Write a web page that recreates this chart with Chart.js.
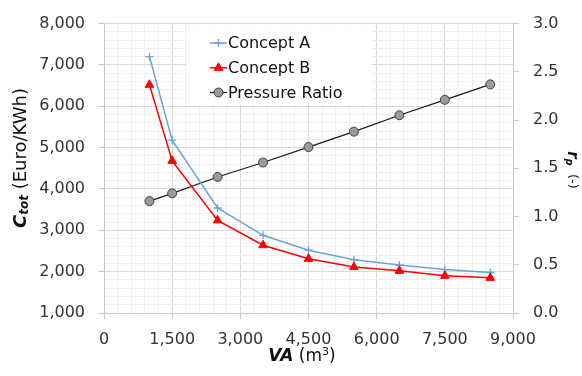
<!DOCTYPE html>
<html>
<head>
<meta charset="utf-8">
<script src="https://cdn.jsdelivr.net/npm/chart.js@4.4.1/dist/chart.umd.min.js"></script>
<style>
  html, body { margin: 0; padding: 0; background: #fff; }
  #wrap { width: 582px; height: 376px; }
</style>
</head>
<body>
<div id="wrap"><canvas id="chart" width="582" height="376"></canvas></div>
<script>
// values
const vaValues = [1000, 1500, 2500, 3500, 4500, 5500, 6500, 7500, 8500];
const conceptA = [7200, 5180, 3540, 2880, 2520, 2290, 2160, 2050, 1980];
const conceptB = [6520, 4680, 3240, 2640, 2310, 2110, 2020, 1900, 1850];
const pressureRatio = [1.16, 1.24, 1.41, 1.56, 1.72, 1.88, 2.05, 2.21, 2.37];

const seriesLabels = ["Concept A", "Concept B", "Pressure Ratio"];

const FONT = "'DejaVu Sans', sans-serif";
const MAJOR = "#d9d9d9";
const MINOR = "#efefef";
const AXIS = "#c8c8c8";

const toPoints = (ys) => vaValues.map((x, i) => ({ x, y: ys[i] }));
const fmt = (v) => v.toLocaleString("en-US");

// legend drawn inside the plot, like the original
const insideLegend = {
  id: "insideLegend",
  afterDatasetsDraw(chart) {
    const ctx = chart.ctx;
    const left = chart.chartArea.left + 82;
    const top = chart.chartArea.top + 0.5;
    ctx.save();
    ctx.fillStyle = "#fff";
    ctx.fillRect(left, top, 186, 81);
    ctx.font = "16px " + FONT;
    ctx.textBaseline = "middle";
    ctx.textAlign = "left";
    chart.data.datasets.forEach((ds, i) => {
      const y = top + 19 + i * 24.7;
      const x0 = left + 24;
      ctx.strokeStyle = ds.borderColor;
      ctx.lineWidth = ds.borderWidth;
      ctx.beginPath();
      ctx.moveTo(x0, y);
      ctx.lineTo(x0 + 17, y);
      ctx.stroke();
      ctx.fillStyle = ds.pointBackgroundColor;
      ctx.strokeStyle = ds.pointBorderColor;
      ctx.lineWidth = ds.pointBorderWidth;
      Chart.helpers.drawPoint(ctx, {
        pointStyle: ds.pointStyle,
        radius: ds.pointRadius,
        rotation: 0,
        borderWidth: ds.pointBorderWidth,
      }, x0 + 8.5, y);
      ctx.fillStyle = "#111";
      ctx.fillText(ds.label, x0 + 18, y + 1);
    });
    ctx.restore();
  },
};

function drawRuns(ctx, runs, cx, cy, angle) {
  ctx.save();
  ctx.translate(cx, cy);
  ctx.rotate(angle);
  ctx.textBaseline = "middle";
  ctx.textAlign = "left";
  ctx.fillStyle = "#111";
  let total = 0;
  runs.forEach((r) => { ctx.font = r.font; total += ctx.measureText(r.text).width; });
  let x = -total / 2;
  runs.forEach((r) => {
    ctx.font = r.font;
    ctx.fillText(r.text, x, r.dy || 0);
    x += ctx.measureText(r.text).width;
  });
  ctx.restore();
}

// axis titles with sub/superscripts
const axisTitles = {
  id: "axisTitles",
  afterDraw(chart) {
    const ctx = chart.ctx;
    drawRuns(ctx, [
      { text: "C", font: "bold italic 18px " + FONT },
      { text: "tot", font: "bold italic 12px " + FONT, dy: 4 },
      { text: " (Euro/KWh)", font: "18px " + FONT },
    ], 21, 158, -Math.PI / 2);
    drawRuns(ctx, [
      { text: "VA", font: "bold italic 17px " + FONT },
      { text: " (m", font: "17px " + FONT },
      { text: "3", font: "11px " + FONT, dy: -5 },
      { text: ")", font: "17px " + FONT },
    ], 302, 357, 0);
    drawRuns(ctx, [
      { text: "r", font: "bold italic 15px " + FONT },
      { text: "p", font: "bold italic 10px " + FONT, dy: 3 },
      { text: "  (-)", font: "13px " + FONT },
    ], 572, 170, Math.PI / 2);
  },
};

Chart.defaults.font.family = FONT;
Chart.defaults.font.size = 16;
Chart.defaults.color = "#333";

new Chart(document.getElementById("chart"), {
  type: "line",
  data: {
    datasets: [
      {
        label: seriesLabels[0],
        data: toPoints(conceptA),
        yAxisID: "y",
        borderColor: "#6aa3da",
        borderWidth: 1.5,
        pointStyle: "cross",
        pointRadius: 4,
        pointBackgroundColor: "#6aa3da",
        pointBorderColor: "#6aa3da",
        pointBorderWidth: 1.3,
        order: 2,
      },
      {
        label: seriesLabels[1],
        data: toPoints(conceptB),
        yAxisID: "y",
        borderColor: "#ff0000",
        borderWidth: 1.5,
        pointStyle: "triangle",
        pointRadius: 5,
        pointBackgroundColor: "#ff0000",
        pointBorderColor: "#ff0000",
        pointBorderWidth: 1,
        order: 1,
      },
      {
        label: seriesLabels[2],
        data: toPoints(pressureRatio),
        yAxisID: "y2",
        borderColor: "#1a1a1a",
        borderWidth: 1.2,
        pointStyle: "circle",
        pointRadius: 4.5,
        pointBackgroundColor: "#9a9a9a",
        pointBorderColor: "#404040",
        pointBorderWidth: 1,
        order: 3,
      },
    ],
  },
  options: {
    responsive: false,
    animation: false,
    devicePixelRatio: 1,
    layout: { padding: { top: 23, left: 0, right: 0, bottom: 0 } },
    plugins: { legend: { display: false }, tooltip: { enabled: false } },
    scales: {
      x: {
        type: "linear",
        position: "bottom",
        min: 0,
        max: 9000,
        afterFit: (s) => { s.height = 63; },
        ticks: {
          stepSize: 300,
          autoSkip: false,
          maxRotation: 0,
          minRotation: 0,
          padding: 11,
          callback: (v) => (v % 1500 === 0 ? fmt(v) : ""),
        },
        grid: {
          color: (c) => (c.tick && c.tick.value % 1500 === 0 ? MAJOR : MINOR),
          tickColor: (c) => (c.tick && c.tick.value % 1500 === 0 ? AXIS : "rgba(0,0,0,0)"),
          tickLength: 6,
        },
        border: { color: AXIS },
      },
      y: {
        type: "linear",
        position: "left",
        min: 1000,
        max: 8000,
        afterFit: (s) => { s.width = 104; },
        ticks: {
          stepSize: 200,
          autoSkip: false,
          padding: 13,
          callback: (v) => (v % 1000 === 0 ? fmt(v) : ""),
        },
        grid: {
          color: (c) => (c.tick && c.tick.value % 1000 === 0 ? MAJOR : MINOR),
          tickColor: (c) => (c.tick && c.tick.value % 1000 === 0 ? AXIS : "rgba(0,0,0,0)"),
          tickLength: 6,
        },
        border: { color: AXIS },
      },
      y2: {
        type: "linear",
        position: "right",
        min: 0,
        max: 3,
        afterFit: (s) => { s.width = 69; },
        ticks: {
          stepSize: 0.5,
          padding: 14,
          callback: (v) => v.toFixed(1),
        },
        grid: { drawOnChartArea: false, tickColor: AXIS, tickLength: 6 },
        border: { color: AXIS },
      },
    },
  },
  plugins: [insideLegend, axisTitles],
});
</script>
</body>
</html>
